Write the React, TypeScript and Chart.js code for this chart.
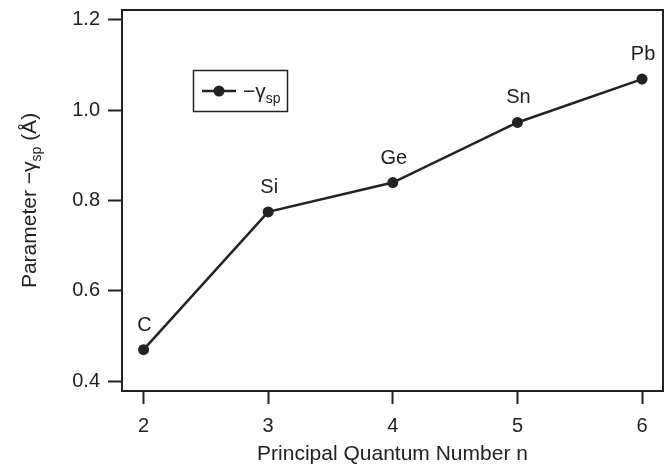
import React, { useEffect, useRef } from "react";
import { Chart, registerables } from "chart.js";

Chart.register(...registerables);

const nValues = [2, 3, 4, 5, 6];
const gammaValues = [0.47, 0.775, 0.84, 0.973, 1.069];
const elementLabels = ["C", "Si", "Ge", "Sn", "Pb"];
const xTickValues = [2, 3, 4, 5, 6];
const yTickValues = [0.4, 0.6, 0.8, 1.0, 1.2];
const xTitle = "Principal Quantum Number n";
const yTitleParts = ["Parameter \u2212\u03b3", "sp", " (\u00c5)"];
const legendParts = ["\u2212\u03b3", "sp"];

const INK = "#222222";
const FONT = "'Liberation Sans', Arial, Helvetica, sans-serif";

const annotationPlugin = {
  id: "annotations",
  afterDraw(chart: any) {
    const { ctx, chartArea, scales } = chart;
    const xs = scales.x;
    const ys = scales.y;
    ctx.save();
    // frame
    ctx.strokeStyle = INK;
    ctx.lineWidth = 2;
    ctx.strokeRect(
      chartArea.left,
      chartArea.top,
      chartArea.right - chartArea.left,
      chartArea.bottom - chartArea.top
    );
    // point labels
    ctx.fillStyle = INK;
    ctx.font = `20px ${FONT}`;
    ctx.textAlign = "center";
    ctx.textBaseline = "alphabetic";
    nValues.forEach((n, i) => {
      const px = xs.getPixelForValue(n);
      const py = ys.getPixelForValue(gammaValues[i]);
      ctx.fillText(elementLabels[i], px + 1, py - 19);
    });
    // x title
    ctx.font = `21px ${FONT}`;
    ctx.textAlign = "center";
    ctx.fillText(xTitle, (chartArea.left + chartArea.right) / 2, 460);
    // y title
    ctx.save();
    const cy = (chartArea.top + chartArea.bottom) / 2;
    ctx.translate(36, cy);
    ctx.rotate(-Math.PI / 2);
    ctx.textAlign = "left";
    ctx.font = `21px ${FONT}`;
    const w1 = ctx.measureText(yTitleParts[0]).width;
    const w3 = ctx.measureText(yTitleParts[2]).width;
    ctx.font = `14px ${FONT}`;
    const w2 = ctx.measureText(yTitleParts[1]).width;
    const total = w1 + w2 + w3;
    let x0 = -total / 2;
    ctx.font = `21px ${FONT}`;
    ctx.fillText(yTitleParts[0], x0, 0);
    x0 += w1;
    ctx.font = `14px ${FONT}`;
    ctx.fillText(yTitleParts[1], x0, 5);
    x0 += w2;
    ctx.font = `21px ${FONT}`;
    ctx.fillText(yTitleParts[2], x0, 0);
    ctx.restore();
    // legend
    ctx.lineWidth = 1.5;
    ctx.strokeStyle = INK;
    ctx.strokeRect(193.5, 70.5, 94, 41);
    ctx.lineWidth = 2.5;
    ctx.beginPath();
    ctx.moveTo(202, 91);
    ctx.lineTo(236, 91);
    ctx.stroke();
    ctx.beginPath();
    ctx.arc(219, 91, 5.5, 0, Math.PI * 2);
    ctx.fill();
    ctx.textAlign = "left";
    ctx.font = `21px ${FONT}`;
    ctx.fillText(legendParts[0], 243, 98);
    const lw = ctx.measureText(legendParts[0]).width;
    ctx.font = `14px ${FONT}`;
    ctx.fillText(legendParts[1], 243 + lw, 103);
    ctx.restore();
  },
};

export default function App() {
  const canvasRef = useRef<HTMLCanvasElement | null>(null);

  useEffect(() => {
    if (!canvasRef.current) return;
    const chart = new Chart(canvasRef.current, {
      type: "scatter",
      data: {
        datasets: [
          {
            label: "-gamma_sp",
            data: nValues.map((n, i) => ({ x: n, y: gammaValues[i] })),
            showLine: true,
            borderColor: INK,
            borderWidth: 2.5,
            pointRadius: 5.5,
            pointBackgroundColor: INK,
            pointBorderWidth: 0,
            clip: false as any,
          },
        ],
      },
      options: {
        responsive: false,
        animation: false,
        devicePixelRatio: 1,
        layout: { padding: { top: 10, right: 7, left: 0, bottom: 0 } },
        plugins: {
          legend: { display: false },
          tooltip: { enabled: false },
        },
        scales: {
          x: {
            type: "linear",
            min: 1.827,
            max: 6.168,
            afterBuildTicks: (s: any) => {
              s.ticks = xTickValues.map((v) => ({ value: v }));
            },
            afterFit: (s: any) => {
              s.height = 73;
              s.paddingLeft = 0;
              s.paddingRight = 0;
            },
            ticks: {
              color: INK,
              font: { family: FONT, size: 20 },
              padding: 10,
              maxRotation: 0,
              autoSkip: false,
              callback: (v: any) => String(v),
            },
            grid: {
              drawOnChartArea: false,
              drawTicks: true,
              tickLength: 13,
              tickColor: INK,
              tickWidth: 2,
            },
            border: { display: false },
          },
          y: {
            type: "linear",
            min: 0.3785,
            max: 1.222,
            afterBuildTicks: (s: any) => {
              s.ticks = yTickValues.map((v) => ({ value: v }));
            },
            afterFit: (s: any) => {
              s.width = 122;
              s.paddingTop = 0;
              s.paddingBottom = 0;
            },
            ticks: {
              color: INK,
              font: { family: FONT, size: 20 },
              padding: 8,
              autoSkip: false,
              callback: (v: any) => Number(v).toFixed(1),
            },
            grid: {
              drawOnChartArea: false,
              drawTicks: true,
              tickLength: 14,
              tickColor: INK,
              tickWidth: 2,
            },
            border: { display: false },
          },
        },
      },
      plugins: [annotationPlugin],
    });
    return () => chart.destroy();
  }, []);

  return (
    <div
      style={{
        position: "fixed",
        left: 0,
        top: 0,
        width: 670,
        height: 464,
        background: "#ffffff",
      }}
    >
      <canvas ref={canvasRef} width={670} height={464} />
    </div>
  );
}
